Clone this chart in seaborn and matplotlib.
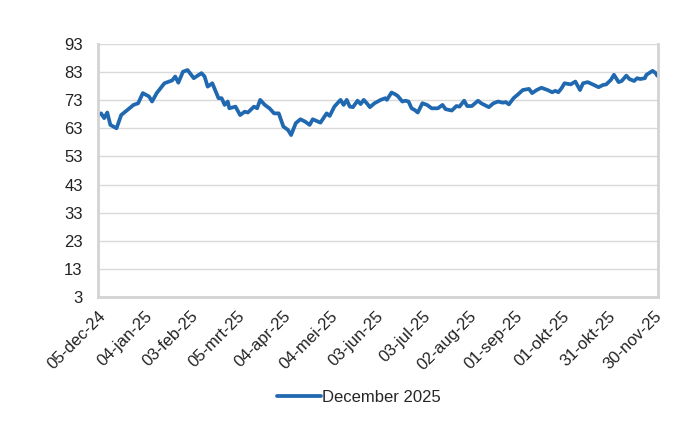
import numpy as np
import pandas as pd
import matplotlib
matplotlib.use('Agg')
import matplotlib.pyplot as plt
import seaborn as sns

# Series (days after 05-dec-24, value)
start_date = pd.Timestamp('2024-12-05')
day_offset = [0, 2, 4, 6, 8, 12, 15, 19, 23, 26, 29, 33, 35, 38, 43, 48, 50, 52, 55, 58,
              62, 67, 69, 71, 74, 78, 80, 82, 84, 85, 89, 92, 95, 97, 101, 103, 105, 108,
              111, 114, 117, 120, 123, 125, 128, 131, 134, 137, 139, 144, 148, 150, 153,
              157, 159, 161, 163, 165, 168, 170, 172, 174, 176, 179, 183, 186, 187, 190,
              192, 194, 197, 199, 201, 203, 205, 207, 210, 213, 216, 220, 223, 225, 229,
              232, 234, 237, 239, 242, 246, 248, 253, 256, 259, 262, 264, 266, 269, 272,
              275, 279, 281, 284, 287, 291, 294, 296, 298, 300, 302, 306, 309, 312, 314,
              317, 321, 324, 327, 329, 332, 334, 337, 339, 342, 344, 347, 349, 351, 354,
              355, 359, 361, 362]
values = [67.7, 68.3, 66.6, 68.6, 64.2, 63.0, 67.7, 69.5, 71.3, 71.9, 75.5, 74.3, 72.5, 75.5,
          79.0, 80.0, 81.4, 79.2, 83.1, 83.7, 80.8, 82.6, 81.4, 77.8, 79.0, 73.7, 73.7, 71.3,
          72.5, 70.1, 70.7, 67.7, 68.9, 68.6, 70.7, 70.1, 73.1, 71.3, 70.1, 68.3, 68.3, 63.6,
          62.4, 60.6, 64.8, 66.2, 65.4, 64.2, 66.2, 65.0, 68.3, 67.4, 70.7, 73.1, 71.3, 73.1,
          70.7, 70.5, 72.8, 71.6, 73.1, 71.9, 70.5, 71.9, 73.1, 73.7, 73.1, 75.7, 75.2, 74.5,
          72.5, 72.8, 72.5, 70.1, 69.5, 68.6, 71.9, 71.3, 70.1, 70.1, 71.3, 69.8, 69.3, 70.9,
          70.7, 72.8, 70.9, 70.9, 72.8, 71.9, 70.5, 71.9, 72.5, 72.1, 72.3, 71.5, 73.7, 75.1,
          76.6, 77.0, 75.5, 76.6, 77.4, 76.6, 75.8, 76.3, 75.8, 77.2, 79.0, 78.6, 79.6, 76.6,
          79.0, 79.4, 78.4, 77.6, 78.4, 78.6, 80.2, 82.0, 79.4, 79.8, 81.7, 80.5, 79.8, 80.8,
          80.5, 80.8, 82.0, 83.4, 82.6, 81.7]
series_name = 'December 2025'

tick_labels = ['05-dec-24', '04-jan-25', '03-feb-25', '05-mrt-25', '04-apr-25', '04-mei-25',
               '03-jun-25', '03-jul-25', '02-aug-25', '01-sep-25', '01-okt-25', '31-okt-25',
               '30-nov-25']
y_ticks = list(range(3, 94, 10))

df = pd.DataFrame({
    'date': start_date + pd.to_timedelta(day_offset, unit='D'),
    'value': values,
    'series': series_name,
})

sns.set_style('white')
plt.rcParams['font.family'] = ['Liberation Sans', 'DejaVu Sans']

fig = plt.figure(figsize=(7, 4.3), dpi=100)
ax = fig.add_axes([0.14, 0.309, 0.80, 0.589])

sns.lineplot(data=df, x='date', y='value', hue='series', palette=['#2068b0'],
             linewidth=2.7, ax=ax, legend=True)

# axes and grid
ax.set_ylim(3, 93)
ax.set_yticks(y_ticks)
ax.set_yticklabels([str(v) for v in y_ticks], fontsize=12, color='#222222')
ax.yaxis.grid(True, color='#d9d9d9', linewidth=1)
ax.set_axisbelow(True)

tick_pos = pd.date_range(start_date, periods=len(tick_labels), freq='30D')
ax.set_xticks(tick_pos)
ax.set_xticklabels(tick_labels, rotation=45, ha='right', rotation_mode='anchor',
                   fontsize=12, color='#222222')
ax.set_xlim(start_date, start_date + pd.Timedelta(days=362.5))
ax.tick_params(axis='x', length=4, color='#cccccc', width=1.5, pad=4)
ax.tick_params(axis='y', length=0, pad=11)

for side in ['left', 'bottom', 'right']:
    ax.spines[side].set_color('#d3d3d3')
    ax.spines[side].set_linewidth(2)
ax.spines['top'].set_visible(False)

ax.set_xlabel('')
ax.set_ylabel('')

# legend below the chart
handles, labels = ax.get_legend_handles_labels()
ax.legend_.remove()
fig.legend(handles, labels, loc='center', bbox_to_anchor=(0.513, 0.076), frameon=False,
           fontsize=12, handlelength=2.6, handletextpad=0.1)

fig.savefig('out.png', dpi=100)
